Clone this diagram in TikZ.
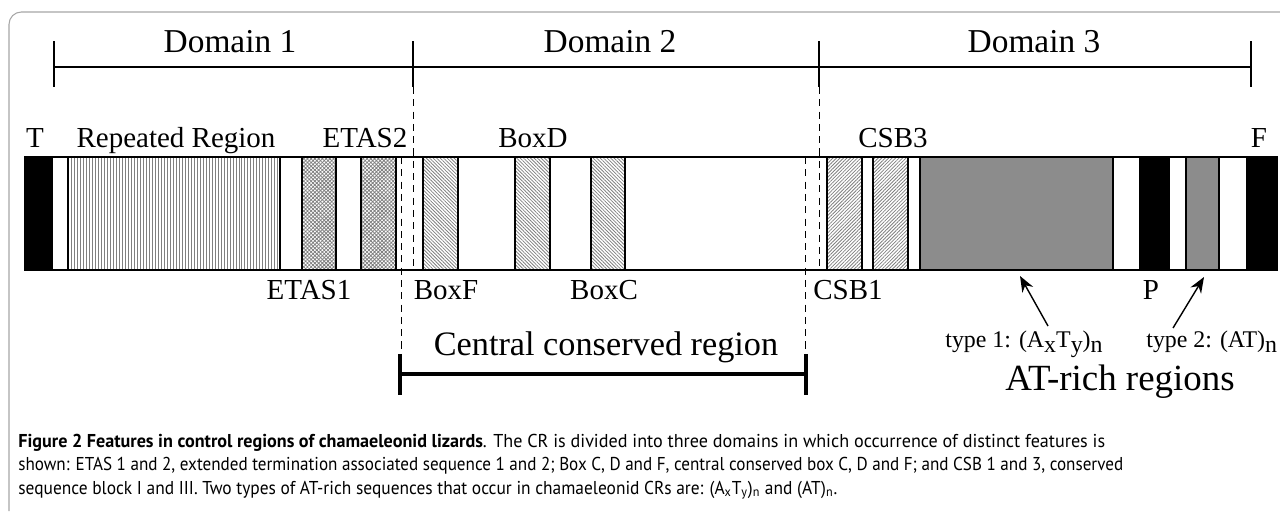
\documentclass[tikz,border=0pt]{standalone}
\usepackage{graphicx}
\usepackage{fontspec}
\setmainfont{Liberation Serif}
\newfontfamily\capfont{PT Sans}
\usetikzlibrary{patterns.meta,arrows.meta}

\newcommand\sublow[1]{\raisebox{-0.5ex}{#1}}
% largeur fixe d'une ligne de légende
\newcommand\capwidth[2]{\resizebox{#1}{\height}{#2}}

\tikzset{
  seg/.style={draw=black, line width=1.6pt},
  blk/.style={seg, fill=black},
  rep/.style={seg, pattern={Lines[angle=90,distance=1.7pt,line width=0.5pt]}, pattern color=gray},
  etas/.style={seg, pattern={Hatch[angle=45,distance=1.5pt,line width=0.45pt]}, pattern color=gray},
  boxhatch/.style={seg, pattern={Lines[angle=-45,distance=1.4pt,line width=0.45pt]}, pattern color=gray},
  csbhatch/.style={seg, pattern={Lines[angle=45,distance=1.4pt,line width=0.45pt]}, pattern color=gray},
  atr/.style={seg, fill=black!45},
  lab/.style={font=\fontsize{16.5}{18}\selectfont, anchor=base, inner sep=0pt},
  dom/.style={font=\fontsize{19}{21}\selectfont, anchor=base, inner sep=0pt},
  typelab/.style={font=\fontsize{13.6}{15}\selectfont, anchor=base west, inner sep=0pt},
  sepline/.style={line width=0.5pt, dash pattern=on 4pt off 3pt},
  atarrow/.style={line width=0.8pt, -{Stealth[length=9pt,width=7pt]}},
  capline/.style={font=\capfont\fontsize{10.6}{12}\selectfont, anchor=base west, inner sep=0pt},
}

\begin{document}
\begin{tikzpicture}[x=0.02cm, y=-0.02cm, line join=miter]

    \useasboundingbox (0,0) rectangle (1280,511);

    % cadre
    \draw[gray!70, line width=0.6pt, rounded corners=7pt] (9,511) -- (9,12) -- (1280,12);

    % Domaines
    \coordinate (d0) at (54,67);
    \coordinate (d1) at (413,67);
    \coordinate (d2) at (819,67);
    \coordinate (d3) at (1251,67);
    \draw[line width=0.8pt] (d0) -- (d3);
    \foreach \p in {d0,d1,d2,d3} {
        \draw[line width=0.6pt] (\p) ++(0,-26) -- ++(0,46);
    }
    \node[dom] (dom1) at (230,52) {Domain 1};
    \node[dom] (dom2) at (610,52) {Domain 2};
    \node[dom] (dom3) at (1034,52) {Domain 3};

    % bande du CR
    \draw[seg] (25,157) rectangle (1277,270);
    \foreach \a/\b/\s in {25/52/blk, 68/280/rep, 302/336/etas, 361/396/etas,
                          423/458/boxhatch, 515/550/boxhatch, 591/625/boxhatch,
                          827/862/csbhatch, 873/908/csbhatch, 920/1113/atr,
                          1140/1169/blk, 1186/1219/atr, 1247/1277/blk} {
        \draw[\s] (\a,157) rectangle (\b,270);
    }

    % lignes pointillées
    \draw[sepline] (413,87) -- (413,270);
    \draw[sepline] (819,87) -- (819,270);
    \draw[sepline] (401,157) -- (401,354);
    \draw[sepline] (805,157) -- (805,354);

    % étiquettes au-dessus
    \node[lab] (T) at (35,147) {T};
    \node[lab] (rep) at (176,147) {Repeated Region};
    \node[lab] (etas2) at (365,147) {ETAS2};
    \node[lab] (boxd) at (533,147) {BoxD};
    \node[lab] (csb3) at (893,147) {CSB3};
    \node[lab] (F) at (1259,147) {F};

    % étiquettes en dessous
    \node[lab] (etas1) at (309,299) {ETAS1};
    \node[lab] (boxf) at (446,299) {BoxF};
    \node[lab] (boxc) at (604,299) {BoxC};
    \node[lab] (csb1) at (848,299) {CSB1};
    \node[lab] (P) at (1151,299) {P};

    % région centrale conservée
    \coordinate (cl) at (400,374);
    \coordinate (cr) at (806,374);
    \draw[line width=1.8pt] (cl) -- (cr);
    \draw[line width=2.4pt] (cl) ++(0,-20) -- ++(0,41);
    \draw[line width=2.4pt] (cr) ++(0,-20) -- ++(0,41);
    \node[dom, font=\fontsize{19.5}{21}\selectfont] (ccr) at (606,355) {Central conserved region};

    % régions riches en AT
    \node[typelab] (typeone) at (945,347) {type 1: (A\sublow{x}T\sublow{y})\sublow{n}};
    \node[typelab] (typetwo) at (1146,347) {type 2: (AT)\sublow{n}};
    \node[dom, font=\fontsize{21}{23}\selectfont] (atrich) at (1120,390) {AT-rich regions};
    \coordinate (tailone) at (1048,326);
    \coordinate (tipone) at (1020,276);
    \coordinate (tailtwo) at (1173,328);
    \coordinate (tiptwo) at (1204,277);
    \draw[atarrow] (tailone) -- (tipone);
    \draw[atarrow] (tailtwo) -- (tiptwo);

    % légende
    \node[capline] (cap1) at (18,447) {\capwidth{21.74cm}{\textbf{Figure 2 Features in control regions of chamaeleonid lizards}. The CR is divided into three domains in which occurrence of distinct features is}};
    \node[capline] (cap2) at (18,470) {\capwidth{22.1cm}{shown: ETAS 1 and 2, extended termination associated sequence 1 and 2; Box C, D and F, central conserved box C, D and F; and CSB 1 and 3, conserved}};
    \node[capline] (cap3) at (18,494) {\capwidth{16.38cm}{sequence block I and III. Two types of AT-rich sequences that occur in chamaeleonid CRs are: (A\textsubscript{x}T\textsubscript{y})\textsubscript{n} and (AT)\textsubscript{n}.}};

\end{tikzpicture}
\end{document}
